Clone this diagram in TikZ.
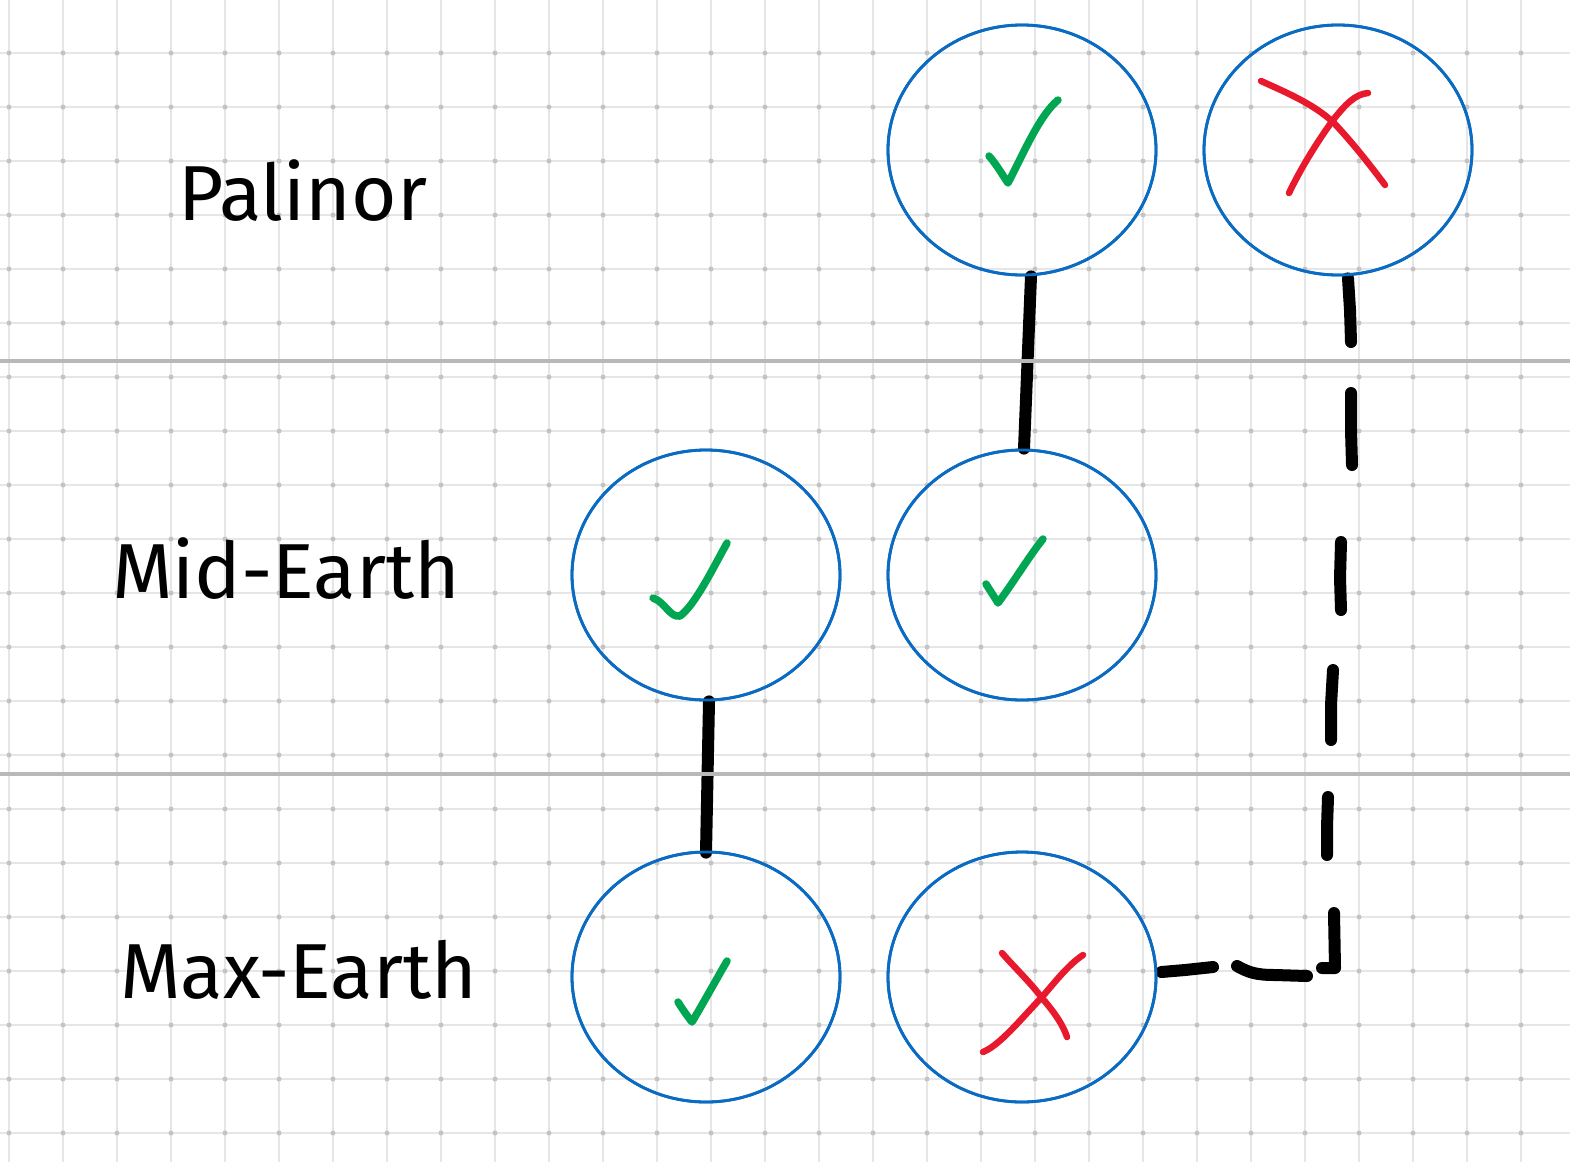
\documentclass[tikz,border=0pt]{standalone}
\usepackage{fontspec}
\setmainfont{Fira Sans}
\usetikzlibrary{shapes.geometric}
\definecolor{gridc}{HTML}{E6E6E6}
\definecolor{dotc}{HTML}{C4C4C4}
\definecolor{divc}{HTML}{B8B8B8}
\definecolor{ringc}{HTML}{0A6BC2}
\definecolor{okc}{HTML}{00A651}
\definecolor{noc}{HTML}{E8192C}
\tikzset{
  gridline/.style={draw=gridc, line width=1.5pt},
  divider/.style={draw=divc, line width=3.5pt},
  ring/.style={ellipse, draw=ringc, line width=2.8pt, minimum width=268pt, minimum height=250pt, inner sep=0pt},
  okmark/.style={draw=okc, line width=7.5pt, line cap=round, line join=round},
  nomark/.style={draw=noc, line width=6.5pt, line cap=round, line join=round},
  link/.style={draw=black, line width=12pt, line cap=round, line join=round},
  label/.style={font=\fontsize{78}{94}\selectfont, anchor=base west, inner sep=0pt, text=black}
}
\begin{document}
\begin{tikzpicture}[x=1pt,y=-1pt]
\useasboundingbox (0,0) rectangle (1570,1162);
\fill[white] (0,0) rectangle (1570,1162);
% grid
\foreach \i in {0,...,28} \draw[gridline] (9+54*\i,0) -- (9+54*\i,1162);
\foreach \j in {1,...,21} \draw[gridline] (0,-1+54*\j) -- (1570,-1+54*\j);
\foreach \i in {0,...,28} \foreach \j in {1,...,21} \fill[dotc] (9+54*\i,-1+54*\j) circle (2.5);
% rings
\node[ring] (p1) at (1022,150) {};
\node[ring] (p2) at (1338,150) {};
\node[ring] (m1) at (706,575) {};
\node[ring] (m2) at (1022,575) {};
\node[ring] (x1) at (706,977) {};
\node[ring] (x2) at (1022,977) {};
% solid links
\draw[link] ([xshift=9pt]p1.south) -- ([xshift=2pt]m2.north);
\draw[link] ([xshift=3pt]m1.south) -- ([yshift=-2pt]x1.north);
% dashed hand-drawn link
\coordinate (d0) at ([xshift=10pt,yshift=-2pt]p2.south);
\draw[link] (d0) -- (1350,310) -- (1351,342);
\draw[link] (1351,393) -- (1351,430) -- (1352,465);
\draw[link] (1341,542) -- (1340,578) -- (1341,610);
\draw[link] (1333,670) -- (1331,705) -- (1331,740);
\draw[link] (1328,797) -- (1327,827) -- (1327,855);
\draw[link] (1334,913) -- (1335,968) -- (1322,968);
\draw[link] (1237,966) .. controls (1248,972) and (1255,975) .. (1275,975) -- (1307,976);
\coordinate (d9) at (1213,967);
\draw[link] (x2.east) ++(4,-5) -- (1185,970) -- (d9);
% dividers
\draw[divider] (0,361) -- (1570,361);
\draw[divider] (0,774) -- (1570,774);
% re-draw rings on top
\foreach \n in {p1,p2,m1,m2,x1,x2} \draw[ringc, line width=2.8pt] (\n.center) ellipse (134 and 125);
% check marks
\draw[okmark] (989,156) .. controls (997,165) and (1003,176) .. (1008,183) .. controls (1025,150) and (1040,115) .. (1058,100);
\draw[okmark] (986,584) .. controls (991,592) and (995,598) .. (998,603) .. controls (1015,580) and (1030,555) .. (1043,539);
\draw[okmark] (653,598) .. controls (665,602) and (670,618) .. (680,616) .. controls (695,605) and (712,570) .. (727,543);
\draw[okmark] (678,1002) .. controls (683,1010) and (688,1017) .. (692,1022) .. controls (705,1000) and (716,980) .. (727,961);
% crosses
\draw[nomark] (1261,81) .. controls (1285,92) and (1312,103) .. (1333,122) .. controls (1352,142) and (1370,165) .. (1385,185);
\draw[nomark] (1368,93) .. controls (1355,94) and (1345,105) .. (1333,120) .. controls (1315,145) and (1300,170) .. (1289,193);
\draw[nomark] (1002,953) .. controls (1015,968) and (1030,982) .. (1042,998) .. controls (1055,1013) and (1063,1025) .. (1067,1037);
\draw[nomark] (1083,955) .. controls (1068,965) and (1055,982) .. (1042,997) .. controls (1020,1020) and (1000,1045) .. (983,1052);
% labels
\node[label] (lp) at (178,220) {Palinor};
\node[label] (lm) at (112,598) {Mid-Earth};
\node[label] (lx) at (120,998) {Max-Earth};
\end{tikzpicture}
\end{document}
